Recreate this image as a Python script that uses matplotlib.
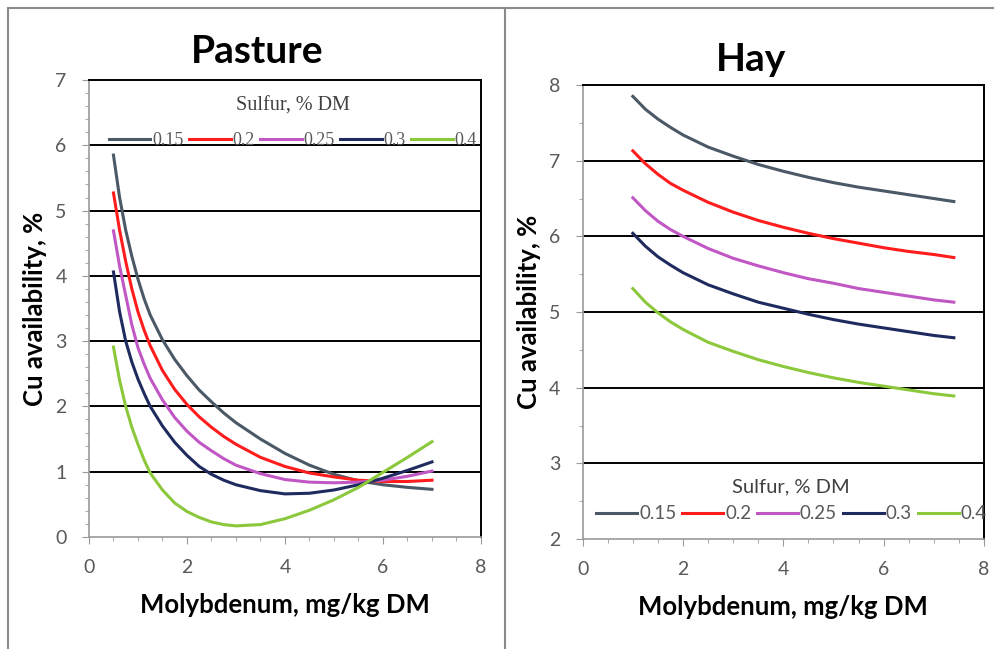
import numpy as np
import matplotlib.pyplot as plt
from matplotlib.ticker import MultipleLocator
from matplotlib.lines import Line2D

sulfur = ['0.15', '0.2', '0.25', '0.3', '0.4']
colors = ['#4b5866', '#ff1c1c', '#c157c4', '#1f2b5f', '#8cc83c']

# Pasture: Cu availability vs Mo
mo_pasture = [0.5, 0.625, 0.75, 0.875, 1.0, 1.125, 1.25, 1.5, 1.75, 2.0, 2.25, 2.5, 2.75,
              3.0, 3.5, 4.0, 4.5, 5.0, 5.5, 6.0, 6.5, 7.0]
pasture_015 = [5.85, 5.2, 4.7, 4.3, 3.95, 3.65, 3.4, 3.02, 2.72, 2.47, 2.25, 2.07, 1.9,
               1.75, 1.5, 1.28, 1.1, 0.96, 0.86, 0.8, 0.76, 0.73]
pasture_02 = [5.27, 4.7, 4.22, 3.8, 3.45, 3.17, 2.93, 2.55, 2.26, 2.03, 1.84, 1.68, 1.54,
              1.42, 1.22, 1.08, 0.98, 0.92, 0.87, 0.85, 0.85, 0.87]
pasture_025 = [4.69, 4.15, 3.7, 3.25, 2.9, 2.65, 2.43, 2.1, 1.83, 1.62, 1.45, 1.32, 1.2,
               1.1, 0.97, 0.88, 0.84, 0.83, 0.84, 0.87, 0.93, 1.01]
pasture_03 = [4.06, 3.45, 3.0, 2.68, 2.42, 2.2, 2.0, 1.7, 1.45, 1.25, 1.08, 0.96, 0.87,
              0.8, 0.71, 0.66, 0.67, 0.72, 0.8, 0.9, 1.02, 1.15]
pasture_04 = [2.91, 2.4, 2.0, 1.68, 1.42, 1.18, 0.98, 0.72, 0.52, 0.39, 0.3, 0.23, 0.19,
              0.17, 0.19, 0.28, 0.41, 0.57, 0.76, 0.99, 1.22, 1.46]

# Hay
mo_hay = [1.0, 1.25, 1.5, 1.75, 2.0, 2.5, 3.0, 3.5, 4.0, 4.5, 5.0, 5.5, 6.0, 6.5, 7.0, 7.4]
hay_015 = [7.85, 7.68, 7.55, 7.44, 7.34, 7.18, 7.06, 6.95, 6.86, 6.78, 6.71, 6.65, 6.6, 6.55, 6.5, 6.46]
hay_02 = [7.13, 6.96, 6.82, 6.7, 6.61, 6.45, 6.32, 6.21, 6.12, 6.04, 5.97, 5.91, 5.85, 5.8, 5.76, 5.72]
hay_025 = [6.51, 6.34, 6.2, 6.09, 6.0, 5.84, 5.71, 5.61, 5.52, 5.44, 5.38, 5.31, 5.26, 5.21, 5.16, 5.13]
hay_03 = [6.04, 5.87, 5.73, 5.62, 5.52, 5.36, 5.24, 5.13, 5.05, 4.97, 4.9, 4.84, 4.79, 4.74, 4.69, 4.66]
hay_04 = [5.31, 5.13, 4.99, 4.87, 4.77, 4.6, 4.48, 4.37, 4.28, 4.2, 4.13, 4.07, 4.02, 3.97, 3.92, 3.89]

pasture = [pasture_015, pasture_02, pasture_025, pasture_03, pasture_04]
hay = [hay_015, hay_02, hay_025, hay_03, hay_04]

sans = ['Lato', 'DejaVu Sans']
tick_col = '#595959'

fig = plt.figure(figsize=(9.94, 6.49), dpi=100)
ax1 = fig.add_axes([0.0895, 0.1726, 0.3944, 0.7041])
ax2 = fig.add_axes([0.5862, 0.1695, 0.4037, 0.6995])


def style(ax, ylo, yhi, yminor):
    ax.set_xlim(0, 8)
    ax.set_ylim(ylo, yhi)
    ax.xaxis.set_major_locator(MultipleLocator(2))
    ax.xaxis.set_minor_locator(MultipleLocator(0.5))
    ax.yaxis.set_major_locator(MultipleLocator(1))
    ax.yaxis.set_minor_locator(MultipleLocator(yminor))
    for y in range(ylo + 1, yhi):
        ax.axhline(y, color='black', lw=1.4, zorder=1)
    for s in ['left', 'bottom']:
        ax.spines[s].set_color('#9a9a9a')
        ax.spines[s].set_linewidth(1.2)
    for s in ['top', 'right']:
        ax.spines[s].set_color('black')
        ax.spines[s].set_linewidth(1.4)
    ax.tick_params(which='both', direction='out', color='#9a9a9a', top=False, right=False)
    ax.tick_params(which='major', length=5, labelsize=14, labelcolor=tick_col, pad=11)
    ax.tick_params(which='minor', length=3)
    for lab in ax.get_xticklabels() + ax.get_yticklabels():
        lab.set_family(sans)
    ax.set_xlabel('Molybdenum, mg/kg DM', fontsize=18.5, fontweight='bold', family=sans, labelpad=12)
    ax.set_ylabel('Cu availability, %', fontsize=18.5, fontweight='bold', family=sans, labelpad=6)


for vals, c in zip(pasture, colors):
    ax1.plot(mo_pasture, vals, color=c, lw=2.2, zorder=3, solid_joinstyle='round')
style(ax1, 0, 7, 0.2)
ax1.set_title('Pasture', fontsize=28, fontweight='bold', family=sans, x=0.43, pad=12)

for vals, c in zip(hay, colors):
    ax2.plot(mo_hay, vals, color=c, lw=2.2, zorder=3, solid_joinstyle='round')
style(ax2, 2, 8, 0.5)
ax2.set_title('Hay', fontsize=28, fontweight='bold', family=sans, x=0.42, pad=10)

handles = [Line2D([], [], color=c, lw=2.2) for c in colors]

leg1 = ax1.legend(handles, sulfur, title='Sulfur, % DM', ncol=5, loc='upper center',
                  bbox_to_anchor=(0.52, 1.0), frameon=False, handlelength=2.3,
                  handletextpad=0.1, columnspacing=0.3,
                  prop={'family': 'Liberation Serif', 'size': 13},
                  title_fontproperties={'family': 'Liberation Serif', 'size': 14.5})
leg1._legend_box.sep = 12
for t in leg1.get_texts():
    t.set_color(tick_col)
leg1.get_title().set_color('#404040')

leg2 = ax2.legend(handles, sulfur, title='Sulfur, % DM', ncol=5, loc='lower center',
                  bbox_to_anchor=(0.52, 0.0), frameon=False, handlelength=2.2,
                  handletextpad=0.1, columnspacing=0.3, prop={'family': sans, 'size': 13.5},
                  title_fontproperties={'family': sans, 'size': 14.5})
for t in leg2.get_texts():
    t.set_color(tick_col)
leg2.get_title().set_color('#404040')

# panel frame lines
frame_col = '#8a8a8a'
fig.add_artist(Line2D([8 / 994, 1], [1 - 8 / 649, 1 - 8 / 649], color=frame_col, lw=1.5))
fig.add_artist(Line2D([8 / 994, 8 / 994], [0, 1 - 8 / 649], color=frame_col, lw=1.5))
fig.add_artist(Line2D([505 / 994, 505 / 994], [0, 1 - 8 / 649], color=frame_col, lw=1.5))

fig.savefig('out.png', dpi=100)
